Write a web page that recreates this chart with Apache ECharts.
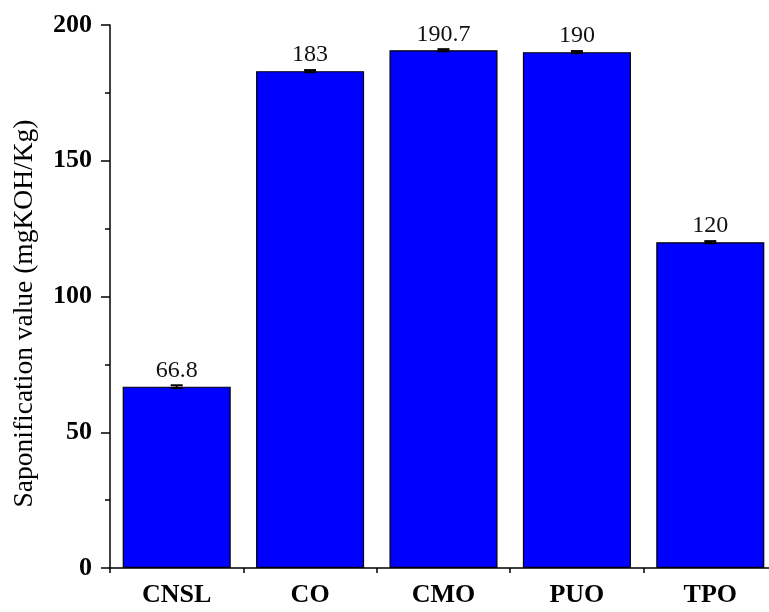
<!DOCTYPE html>
<html>
<head>
<meta charset="utf-8">
<script src="https://cdn.jsdelivr.net/npm/echarts@6/dist/echarts.min.js"></script>
<style>
html,body{margin:0;padding:0;background:#fff;overflow:hidden;width:769px;height:612px;}
#c{width:780px;height:612px;}
</style>
</head>
<body>
<div id="c"></div>
<script>
var categories = ['CNSL', 'CO', 'CMO', 'PUO', 'TPO'];
var values = [66.8, 183, 190.7, 190, 120];
var errors = [0.5, 0.4, 0.4, 0.4, 0.4];
var yTicks = [0, 50, 100, 150, 200];
var yAxisTitle = 'Saponification value (mgKOH/Kg)';

var FONT = '"Liberation Serif", "Times New Roman", Times, serif';
var chart = echarts.init(document.getElementById('c'));

var errData = categories.map(function (c, i) { return [i, values[i], errors[i]]; });

chart.setOption({
  animation: false,
  backgroundColor: '#ffffff',
  grid: { left: 110, right: 3, top: 25, bottom: 44, containLabel: false },
  xAxis: [{
    type: 'category',
    data: categories,
    axisLine: { lineStyle: { color: '#000', width: 1.5 } },
    axisTick: { alignWithLabel: true, length: 10, lineStyle: { color: '#000', width: 1.5 } },
    axisLabel: { color: '#000', fontFamily: FONT, fontWeight: 'bold', fontSize: 26, margin: 14 },
    splitLine: { show: false }
  }, {
    type: 'category',
    data: categories,
    position: 'bottom',
    axisLine: { show: false },
    axisTick: { show: true, length: 5, lineStyle: { color: '#000', width: 1.5 } },
    axisLabel: { show: false },
    splitLine: { show: false }
  }],
  yAxis: {
    type: 'value',
    min: yTicks[0],
    max: yTicks[yTicks.length - 1],
    interval: 50,
    name: yAxisTitle,
    nameLocation: 'middle',
    nameGap: 71,
    nameTextStyle: { color: '#000', fontFamily: FONT, fontSize: 27.5, padding: [0, 34, 0, 0] },
    axisLine: { show: true, lineStyle: { color: '#000', width: 1.5 } },
    axisTick: { show: true, length: 9, lineStyle: { color: '#000', width: 1.5 } },
    minorTick: { show: true, splitNumber: 2, length: 5, lineStyle: { color: '#000', width: 1.5 } },
    axisLabel: { color: '#000', fontFamily: FONT, fontWeight: 'bold', fontSize: 26, margin: 18 },
    splitLine: { show: false }
  },
  series: [{
    type: 'bar',
    data: values,
    barWidth: '81%',
    itemStyle: { color: '#0000ff', borderColor: '#000', borderWidth: 1.2 },
    label: {
      show: true, position: 'top', distance: 4,
      color: '#111', fontFamily: FONT, fontSize: 24
    }
  }, {
    type: 'custom',
    data: errData,
    z: 10,
    renderItem: function (params, api) {
      var x = api.value(0), v = api.value(1), e = api.value(2);
      var hi = api.coord([x, v + e]);
      var lo = api.coord([x, v - e]);
      var hw = 6;
      var style = { stroke: '#000', lineWidth: 2 };
      return {
        type: 'group',
        children: [
          { type: 'line', shape: { x1: hi[0], y1: hi[1], x2: lo[0], y2: lo[1] }, style: style },
          { type: 'line', shape: { x1: hi[0] - hw, y1: hi[1], x2: hi[0] + hw, y2: hi[1] }, style: style },
          { type: 'line', shape: { x1: lo[0] - hw, y1: lo[1], x2: lo[0] + hw, y2: lo[1] }, style: style }
        ]
      };
    }
  }]
});
</script>
</body>
</html>
